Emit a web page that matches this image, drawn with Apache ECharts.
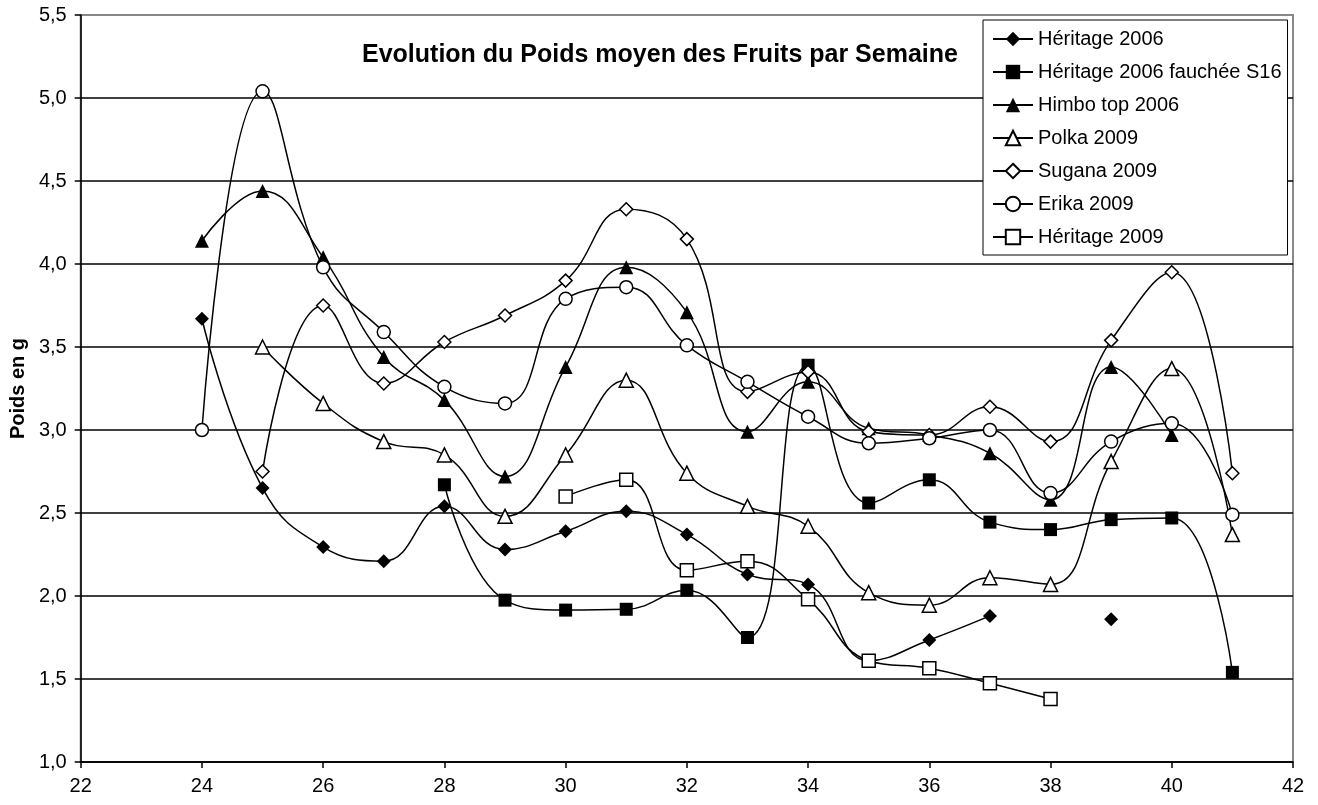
<!DOCTYPE html>
<html>
<head>
<meta charset="utf-8">
<script src="https://cdn.jsdelivr.net/npm/echarts@6/dist/echarts.min.js"></script>
<style>
html,body{margin:0;padding:0;background:#fff;}
#chart{width:1318px;height:805px;}
</style>
</head>
<body>
<div id="chart"></div>
<script>
const chartTitle = 'Evolution du Poids moyen des Fruits par Semaine';
const yAxisName = 'Poids en g';
const weeks = [24,25,26,27,28,29,30,31,32,33,34,35,36,37,38,39,40,41];
const seriesNames = ['Héritage 2006','Héritage 2006 fauchée S16','Himbo top 2006','Polka 2009','Sugana 2009','Erika 2009','Héritage 2009'];
const heritage2006        = [3.67,2.65,2.295,2.21,2.54,2.28,2.39,2.51,2.37,2.13,2.07,1.61,1.735,1.88,null,1.86,null,null];
const heritage2006Fauchee = [null,null,null,null,2.67,1.975,1.915,1.92,2.035,1.75,3.39,2.56,2.70,2.445,2.40,2.46,2.47,1.54];
const himboTop2006        = [4.14,4.44,4.04,3.44,3.18,2.72,3.38,3.98,3.71,2.99,3.29,3.01,2.97,2.86,2.58,3.38,2.97,null];
const polka2009           = [null,3.50,3.16,2.93,2.85,2.48,2.85,3.30,2.74,2.54,2.42,2.02,1.945,2.11,2.07,2.81,3.37,2.37];
const sugana2009          = [null,2.75,3.75,3.28,3.53,3.69,3.90,4.33,4.15,3.23,3.35,2.99,2.97,3.14,2.93,3.54,3.95,2.74];
const erika2009           = [3.00,5.04,3.98,3.59,3.26,3.16,3.79,3.86,3.51,3.29,3.08,2.92,2.95,3.00,2.62,2.93,3.04,2.49];
const heritage2009        = [null,null,null,null,null,null,2.60,2.70,2.155,2.21,1.98,1.61,1.565,1.475,1.38,null,null,null];

const allValues = [heritage2006,heritage2006Fauchee,himboTop2006,polka2009,sugana2009,erika2009,heritage2009];
const symbols = ['diamond','rect','triangle','triangle','diamond','circle','rect'];
const filled = [true,true,true,false,false,false,false];
const sizes = [14,13,14,14,13,13,13];

function pairs(vals){ return weeks.map((w,i)=>[w, vals[i]]); }

const FONT = 'Liberation Sans, Arial, sans-serif';
const chart = echarts.init(document.getElementById('chart'), null, {renderer:'canvas'});

const series = seriesNames.map((name,i)=>({
  name: name,
  type: 'line',
  data: pairs(allValues[i]),
  smooth: 0.45,
  connectNulls: false,
  symbol: symbols[i],
  symbolSize: sizes[i],
  showAllSymbol: true,
  lineStyle: {color:'#000', width:1.5},
  itemStyle: {color: filled[i] ? '#000' : '#fff', borderColor:'#000', borderWidth: filled[i] ? 0 : 1.5},
  emphasis: {disabled:true},
  z: 2 + i
}));

const splitColors = ['#000','#000','#000','#000','#000','#000','#000','#000','#000','#888'];

chart.setOption({
  animation: false,
  backgroundColor: '#fff',
  title: {
    text: chartTitle,
    left: 357, top: 38,
    textStyle: {fontFamily: FONT, fontSize: 25, fontWeight: 'bold', color:'#000'}
  },
  legend: {
    data: seriesNames,
    orient: 'vertical',
    left: 983, top: 20,
    padding: [8, 6, 7, 9],
    itemWidth: 40, itemHeight: 18,
    itemGap: 11,
    backgroundColor: '#fff',
    borderColor: '#000', borderWidth: 1,
    textStyle: {fontFamily: FONT, fontSize: 20, color:'#000', lineHeight: 22},
    selectedMode: false
  },
  grid: {
    left: 77, right: 25, top: 15, bottom: 43,
    show: true, borderColor: '#888', borderWidth: 2, backgroundColor: 'transparent'
  },
  xAxis: {
    type: 'value', min: 22, max: 42, interval: 2,
    axisLine: {show:true, onZero:false, lineStyle:{color:'#000', width:1.5}},
    axisTick: {show:true, inside:false, length:6, lineStyle:{color:'#000', width:1.5}},
    axisLabel: {fontFamily: FONT, fontSize: 20, color:'#000', margin: 14},
    splitLine: {show:false}
  },
  yAxis: {
    type: 'value', min: 1, max: 5.5, interval: 0.5,
    name: yAxisName, nameLocation: 'middle', nameGap: 50, nameRotate: 90,
    nameTextStyle: {fontFamily: FONT, fontSize: 20, fontWeight:'bold', color:'#000', padding:[0,0,0,0]},
    axisLine: {show:true, lineStyle:{color:'#000', width:1.5}},
    axisTick: {show:true, inside:false, length:6, lineStyle:{color:'#000', width:1.5}},
    axisLabel: {fontFamily: FONT, fontSize: 20, color:'#000', margin: 14,
      formatter: v => v.toFixed(1).replace('.', ',')},
    splitLine: {show:true, lineStyle:{color: splitColors, width:1.5}}
  },
  series: series
});
</script>
</body>
</html>
